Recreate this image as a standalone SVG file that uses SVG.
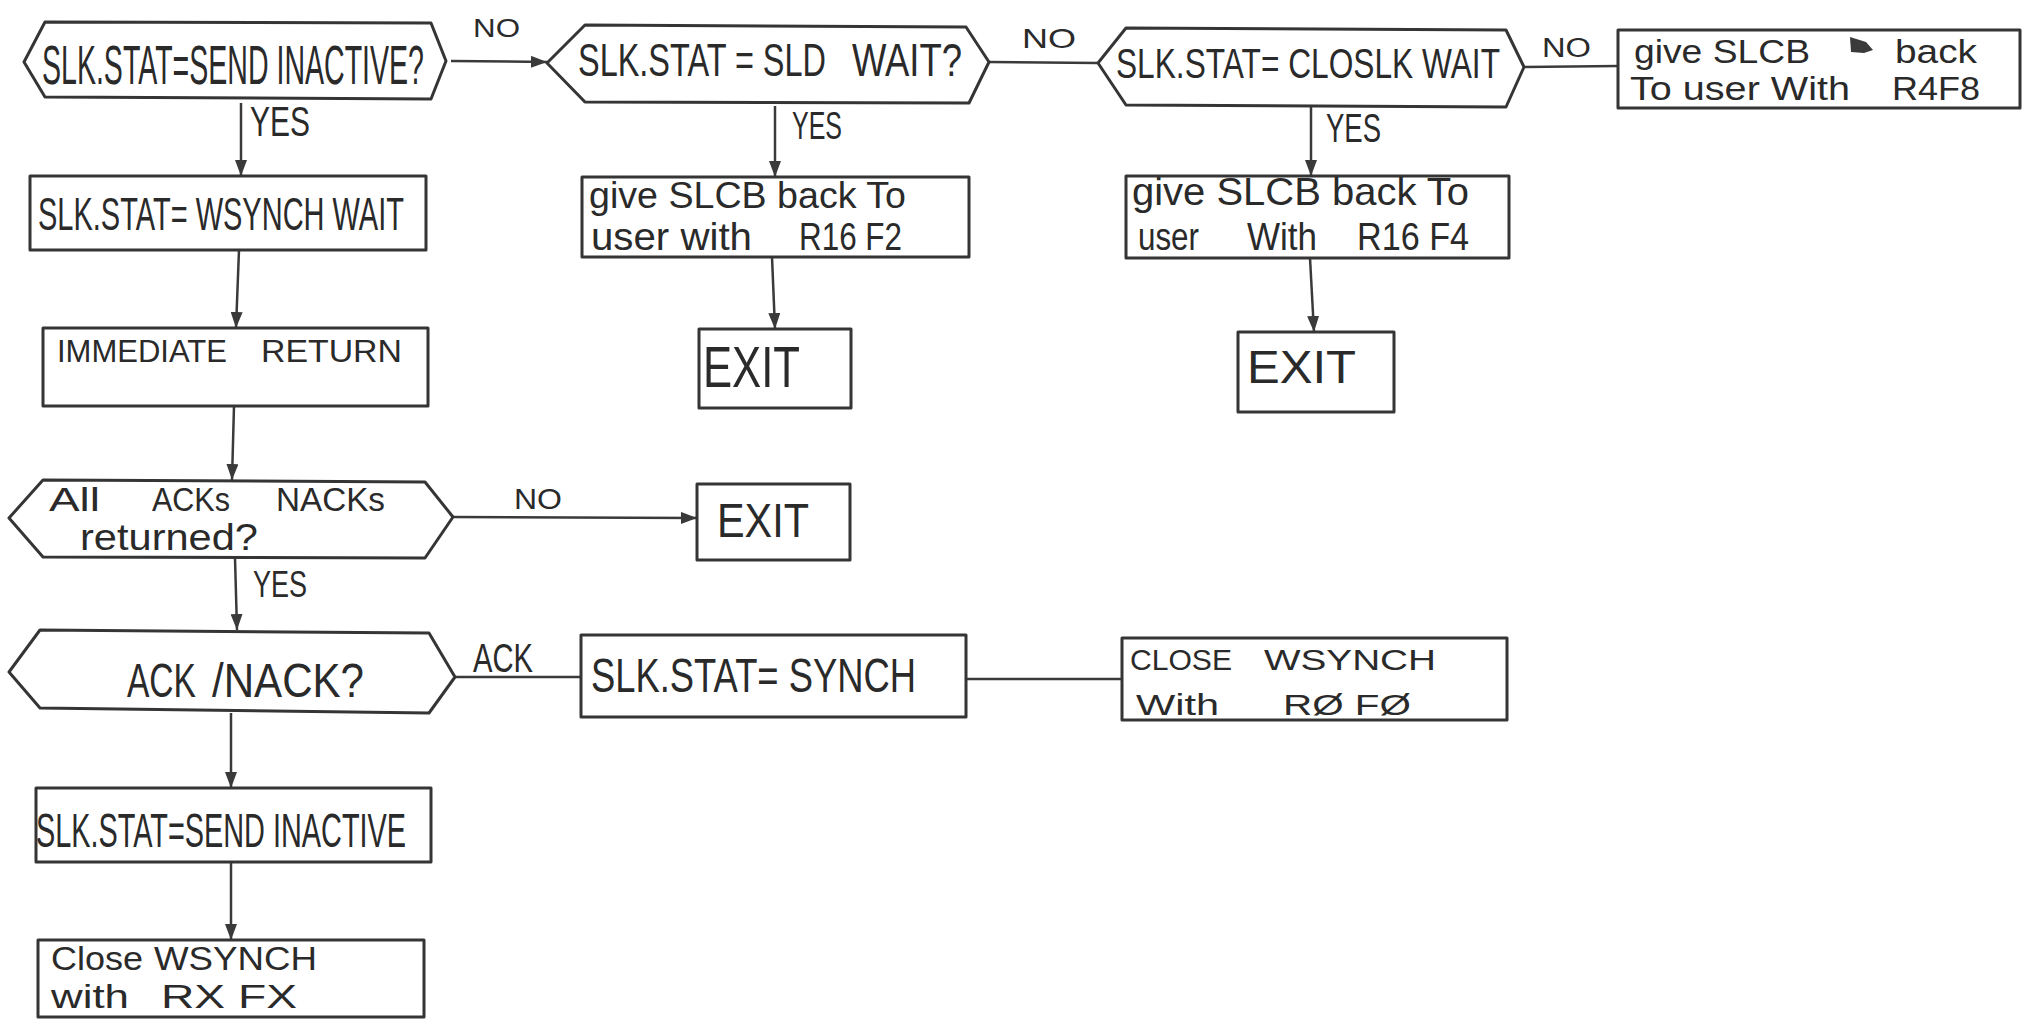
<svg xmlns="http://www.w3.org/2000/svg" width="2034" height="1028" viewBox="0 0 2034 1028">
<style>
.s{fill:#fff;stroke:#353535;stroke-width:3;stroke-linejoin:round}
.t{font-family:"Liberation Sans",Arial,sans-serif;fill:#2a2a2a}
.c{fill:none;stroke:#3a3a3a;stroke-width:2.5}
</style>
<defs>
<marker id="ah" markerUnits="userSpaceOnUse" markerWidth="16" markerHeight="12" refX="16" refY="6" orient="auto">
<path d="M0,0 L16,6 L0,12 Z" fill="#3a3a3a"/>
</marker>
</defs>
<rect width="2034" height="1028" fill="#fff"/>

<g id="connectors">
<line class="c" x1="451" y1="61" x2="547" y2="62" marker-end="url(#ah)"/>
<line class="c" x1="989" y1="62" x2="1098" y2="63"/>
<line class="c" x1="1524" y1="67" x2="1618" y2="66"/>
<line class="c" x1="241" y1="103" x2="241" y2="176" marker-end="url(#ah)"/>
<line class="c" x1="239" y1="250" x2="236" y2="328" marker-end="url(#ah)"/>
<line class="c" x1="234" y1="406" x2="232" y2="480" marker-end="url(#ah)"/>
<line class="c" x1="453" y1="517" x2="697" y2="518" marker-end="url(#ah)"/>
<line class="c" x1="235" y1="558" x2="237" y2="630" marker-end="url(#ah)"/>
<line class="c" x1="455" y1="677" x2="581" y2="677"/>
<line class="c" x1="966" y1="679" x2="1122" y2="679"/>
<line class="c" x1="231" y1="713" x2="231" y2="788" marker-end="url(#ah)"/>
<line class="c" x1="231" y1="862" x2="231" y2="940" marker-end="url(#ah)"/>
<line class="c" x1="775" y1="106" x2="775" y2="177" marker-end="url(#ah)"/>
<line class="c" x1="772" y1="257" x2="775" y2="329" marker-end="url(#ah)"/>
<line class="c" x1="1311" y1="107" x2="1311" y2="176" marker-end="url(#ah)"/>
<line class="c" x1="1310" y1="258" x2="1314" y2="332" marker-end="url(#ah)"/>
<text class="t" x="473" y="37" font-size="25" textLength="47" lengthAdjust="spacingAndGlyphs">NO</text>
<text class="t" x="1022" y="48" font-size="28" textLength="54" lengthAdjust="spacingAndGlyphs">NO</text>
<text class="t" x="1542" y="57" font-size="27" textLength="49" lengthAdjust="spacingAndGlyphs">NO</text>
<text class="t" x="514" y="509" font-size="30" textLength="48" lengthAdjust="spacingAndGlyphs">NO</text>
<text class="t" x="250" y="0" font-size="30" textLength="60" lengthAdjust="spacingAndGlyphs" transform="translate(0,136) scale(1,1.4)">YES</text>
<text class="t" x="792" y="0" font-size="25" textLength="50" lengthAdjust="spacingAndGlyphs" transform="translate(0,139) scale(1,1.55)">YES</text>
<text class="t" x="1326" y="0" font-size="27" textLength="55" lengthAdjust="spacingAndGlyphs" transform="translate(0,142) scale(1,1.5)">YES</text>
<text class="t" x="253" y="0" font-size="27" textLength="54" lengthAdjust="spacingAndGlyphs" transform="translate(0,597) scale(1,1.4)">YES</text>
<text class="t" x="473" y="0" font-size="29" textLength="60" lengthAdjust="spacingAndGlyphs" transform="translate(0,672) scale(1,1.4)">ACK</text>
</g>

<g id="d1">
<polygon class="s" points="24,62 45,22 431,23 446,61 431,99 45,97"/>
<text class="t" x="42" y="0" font-size="29" textLength="382" lengthAdjust="spacingAndGlyphs" transform="translate(0,84) scale(1,1.9)">SLK.STAT=SEND INACTIVE?</text>
</g>
<g id="d2">
<polygon class="s" points="547,63 585,25 966,27 989,62 969,103 585,102"/>
<g transform="translate(0,76) scale(1,1.44)">
<text class="t" x="578" y="0" font-size="32" textLength="248" lengthAdjust="spacingAndGlyphs">SLK.STAT = SLD</text>
<text class="t" x="852" y="0" font-size="32" textLength="110" lengthAdjust="spacingAndGlyphs">WAIT?</text>
</g>
</g>
<g id="d3">
<polygon class="s" points="1098,63 1126,28 1506,30 1524,67 1506,107 1126,105"/>
<text class="t" x="1116" y="0" font-size="31" textLength="384" lengthAdjust="spacingAndGlyphs" transform="translate(0,78) scale(1,1.35)">SLK.STAT= CLOSLK WAIT</text>
</g>
<g id="r4f8">
<rect class="s" x="1618" y="30" width="402" height="78"/>
<path d="M1850,37 L1866,42 L1873,50 L1864,53 L1851,52 Z" fill="#3a3a3a"/>
<g transform="translate(0,63) scale(1,1.1)">
<text class="t" x="1634" y="0" font-size="30" textLength="176" lengthAdjust="spacingAndGlyphs">give SLCB</text>
<text class="t" x="1895" y="0" font-size="30" textLength="82" lengthAdjust="spacingAndGlyphs">back</text>
</g>
<g transform="translate(0,100) scale(1,1.1)">
<text class="t" x="1630" y="0" font-size="31" textLength="220" lengthAdjust="spacingAndGlyphs">To user With</text>
<text class="t" x="1892" y="0" font-size="31" textLength="88" lengthAdjust="spacingAndGlyphs">R4F8</text>
</g>
</g>
<g id="wsynchwait">
<rect class="s" x="30" y="176" width="396" height="74"/>
<text class="t" x="38" y="0" font-size="28" textLength="366" lengthAdjust="spacingAndGlyphs" transform="translate(0,230) scale(1,1.62)">SLK.STAT= WSYNCH WAIT</text>
</g>
<g id="f2">
<rect class="s" x="582" y="177" width="387" height="80"/>
<text class="t" x="589" y="0" font-size="34" textLength="317" lengthAdjust="spacingAndGlyphs" transform="translate(0,208) scale(1,1.1)">give SLCB back To</text>
<g transform="translate(0,250) scale(1,1.15)">
<text class="t" x="591" y="0" font-size="34" textLength="161" lengthAdjust="spacingAndGlyphs">user with</text>
<text class="t" x="799" y="0" font-size="34" textLength="103" lengthAdjust="spacingAndGlyphs">R16 F2</text>
</g>
</g>
<g id="f4">
<rect class="s" x="1126" y="176" width="383" height="82"/>
<text class="t" x="1132" y="0" font-size="35" textLength="337" lengthAdjust="spacingAndGlyphs" transform="translate(0,205) scale(1,1.1)">give SLCB back To</text>
<g transform="translate(0,250) scale(1,1.15)">
<text class="t" x="1138" y="0" font-size="34" textLength="61" lengthAdjust="spacingAndGlyphs">user</text>
<text class="t" x="1247" y="0" font-size="34" textLength="70" lengthAdjust="spacingAndGlyphs">With</text>
<text class="t" x="1357" y="0" font-size="34" textLength="112" lengthAdjust="spacingAndGlyphs">R16 F4</text>
</g>
</g>
<g id="immediate">
<rect class="s" x="43" y="328" width="385" height="78"/>
<text class="t" x="57" y="362" font-size="32" textLength="170" lengthAdjust="spacingAndGlyphs">IMMEDIATE</text>
<text class="t" x="261" y="362" font-size="32" textLength="141" lengthAdjust="spacingAndGlyphs">RETURN</text>
</g>
<g id="exit1">
<rect class="s" x="699" y="329" width="152" height="79"/>
<text class="t" x="703" y="0" font-size="43" textLength="97" lengthAdjust="spacingAndGlyphs" transform="translate(0,387) scale(1,1.35)">EXIT</text>
</g>
<g id="exit2">
<rect class="s" x="1238" y="332" width="156" height="80"/>
<text class="t" x="1247" y="383" font-size="46" textLength="109" lengthAdjust="spacingAndGlyphs">EXIT</text>
</g>
<g id="d4">
<polygon class="s" points="9,518 43,480 425,482 453,517 425,558 43,557"/>
<g transform="translate(0,511) scale(1,1.2)">
<text class="t" x="49" y="0" font-size="28" textLength="51" lengthAdjust="spacingAndGlyphs">All</text>
<text class="t" x="152" y="0" font-size="28" textLength="78" lengthAdjust="spacingAndGlyphs">ACKs</text>
<text class="t" x="276" y="0" font-size="28" textLength="109" lengthAdjust="spacingAndGlyphs">NACKs</text>
</g>
<text class="t" x="80" y="0" font-size="34" textLength="178" lengthAdjust="spacingAndGlyphs" transform="translate(0,550) scale(1,1.1)">returned?</text>
</g>
<g id="exit3">
<rect class="s" x="697" y="484" width="153" height="76"/>
<text class="t" x="717" y="0" font-size="41" textLength="92" lengthAdjust="spacingAndGlyphs" transform="translate(0,537) scale(1,1.15)">EXIT</text>
</g>
<g id="d5">
<polygon class="s" points="9,672 40,630 429,633 455,677 429,713 40,708"/>
<g transform="translate(0,697) scale(1,1.2)">
<text class="t" x="127" y="0" font-size="40" textLength="69" lengthAdjust="spacingAndGlyphs">ACK</text>
<text class="t" x="212" y="0" font-size="40" textLength="152" lengthAdjust="spacingAndGlyphs">/NACK?</text>
</g>
</g>
<g id="synch">
<rect class="s" x="581" y="635" width="385" height="82"/>
<text class="t" x="591" y="0" font-size="35" textLength="325" lengthAdjust="spacingAndGlyphs" transform="translate(0,692) scale(1,1.37)">SLK.STAT= SYNCH</text>
</g>
<g id="r0f0">
<rect class="s" x="1122" y="638" width="385" height="82"/>
<text class="t" x="1130" y="670" font-size="30" textLength="102" lengthAdjust="spacingAndGlyphs">CLOSE</text>
<text class="t" x="1264" y="670" font-size="30" textLength="172" lengthAdjust="spacingAndGlyphs">WSYNCH</text>
<text class="t" x="1136" y="715" font-size="30" textLength="83" lengthAdjust="spacingAndGlyphs">With</text>
<text class="t" x="1283" y="715" font-size="30" textLength="128" lengthAdjust="spacingAndGlyphs">RØ FØ</text>
</g>
<g id="sendinactive">
<rect class="s" x="36" y="788" width="395" height="74"/>
<text class="t" x="36" y="0" font-size="28" textLength="370" lengthAdjust="spacingAndGlyphs" transform="translate(0,847) scale(1,1.7)">SLK.STAT=SEND INACTIVE</text>
</g>
<g id="rxfx">
<rect class="s" x="38" y="940" width="386" height="77"/>
<g transform="translate(0,970) scale(1,1.1)">
<text class="t" x="51" y="0" font-size="30" textLength="92" lengthAdjust="spacingAndGlyphs">Close</text>
<text class="t" x="154" y="0" font-size="30" textLength="163" lengthAdjust="spacingAndGlyphs">WSYNCH</text>
</g>
<g transform="translate(0,1008) scale(1,1.1)">
<text class="t" x="51" y="0" font-size="31" textLength="78" lengthAdjust="spacingAndGlyphs">with</text>
<text class="t" x="161" y="0" font-size="31" textLength="136" lengthAdjust="spacingAndGlyphs">RX FX</text>
</g>
</g>
</svg>
